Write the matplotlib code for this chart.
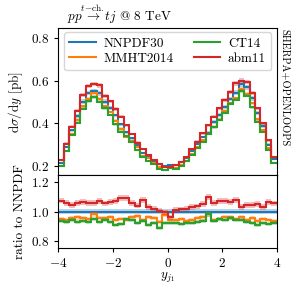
import numpy as np
import matplotlib
matplotlib.use("Agg")
import matplotlib.pyplot as plt

plt.rcParams['font.family'] = 'cmr10'
plt.rcParams['mathtext.fontset'] = 'cm'
plt.rcParams['axes.formatter.use_mathtext'] = True
plt.rcParams['font.size'] = 9.5

# bin edges in y_j1
edges = np.linspace(-4, 4, 41)

# NNPDF30 dsigma/dy [pb]
nnpdf = [0.212, 0.288, 0.368, 0.434, 0.502, 0.542, 0.551, 0.540, 0.502, 0.472,
         0.437, 0.395, 0.358, 0.330, 0.298, 0.259, 0.245, 0.224, 0.209, 0.198,
         0.205, 0.203, 0.217, 0.239, 0.272, 0.304, 0.336, 0.356, 0.407, 0.439,
         0.476, 0.515, 0.544, 0.583, 0.569, 0.517, 0.448, 0.388, 0.300, 0.231]

# ratios to NNPDF30
mmht_r = [0.950, 0.945, 0.955, 0.960, 0.955, 0.950, 0.980, 0.955, 0.955, 0.960,
          0.945, 0.950, 0.940, 0.965, 0.970, 0.945, 0.965, 0.955, 0.930, 0.975,
          0.940, 0.945, 0.950, 0.935, 0.940, 0.955, 0.960, 0.980, 0.945, 0.950,
          0.965, 0.960, 0.950, 0.965, 0.945, 0.955, 0.935, 0.950, 0.940, 0.935]
ct14_r = [0.935, 0.930, 0.940, 0.930, 0.935, 0.930, 0.950, 0.930, 0.940, 0.930,
          0.905, 0.915, 0.950, 0.945, 0.925, 0.935, 0.910, 0.925, 0.890, 0.920,
          0.925, 0.920, 0.915, 0.925, 0.925, 0.930, 0.935, 0.980, 0.935, 0.950,
          0.945, 0.955, 0.940, 0.945, 0.930, 0.920, 0.910, 0.925, 0.915, 0.920]
abm_r = [1.075, 1.060, 1.045, 1.060, 1.065, 1.060, 1.060, 1.070, 1.055, 1.065,
         1.070, 1.090, 1.090, 1.060, 1.040, 1.080, 1.030, 1.020, 1.005, 0.995,
         0.960, 1.010, 1.015, 1.020, 1.030, 1.035, 1.050, 1.100, 1.060, 1.070,
         1.070, 1.065, 1.080, 1.030, 1.045, 1.045, 1.050, 1.030, 1.065, 1.055]

labels = ['NNPDF30', 'MMHT2014', 'CT14', 'abm11']
colors = ['tab:blue', 'tab:orange', 'tab:green', 'tab:red']
ratios = [np.ones(40), np.array(mmht_r), np.array(ct14_r), np.array(abm_r)]
band = [0.02, 0.015, 0.015, 0.018]  # relative uncertainty

nn = np.array(nnpdf)

fig = plt.figure(figsize=(2.92, 2.92), dpi=100)
ax = fig.add_axes([0.2, 0.401, 0.748, 0.503])
axr = fig.add_axes([0.2, 0.151, 0.748, 0.25], sharex=ax)

for lab, col, r, b in zip(labels, colors, ratios, band):
    vals = nn * r
    ax.stairs(vals * (1 + b), edges, baseline=vals * (1 - b), fill=True,
              color=col, alpha=0.3, lw=0)
    ax.stairs(vals, edges, baseline=None, color=col, lw=1.5, label=lab)
    axr.stairs(r * (1 + b), edges, baseline=r * (1 - b), fill=True,
               color=col, alpha=0.3, lw=0)
    axr.stairs(r, edges, baseline=None, color=col, lw=1.5)

ax.set_xlim(-4, 4)
ax.set_ylim(0.158, 0.847)
ax.set_yticks([0.2, 0.4, 0.6, 0.8])
ax.set_ylabel(r'$\mathrm{d}\sigma/\mathrm{d}y$ [pb]')
ax.tick_params(labelbottom=False, length=3)
ax.legend(ncol=2, loc='upper center', fontsize=9.5, handlelength=2.0,
          columnspacing=1.5, borderaxespad=0.3, labelspacing=0.25,
          handletextpad=0.6)
ax.set_title(r'$pp \overset{t\mathrm{-ch.}}{\rightarrow} tj$ @ 8 TeV',
             loc='left', fontsize=9.5, pad=5, x=0.04)

fig.text(0.958, 0.9, 'SHERPA+OPENLOOPS', rotation=-90, fontsize=7.5,
         ha='left', va='top')

axr.set_ylim(0.752, 1.25)
axr.set_yticks([0.8, 1.0, 1.2])
axr.set_xticks([-4, -2, 0, 2, 4])
axr.set_ylabel('ratio to NNPDF')
axr.set_xlabel(r'$y_{j_1}$', labelpad=1)
axr.tick_params(length=3)

fig.align_ylabels([ax, axr])
fig.savefig('out.png', dpi=100)
